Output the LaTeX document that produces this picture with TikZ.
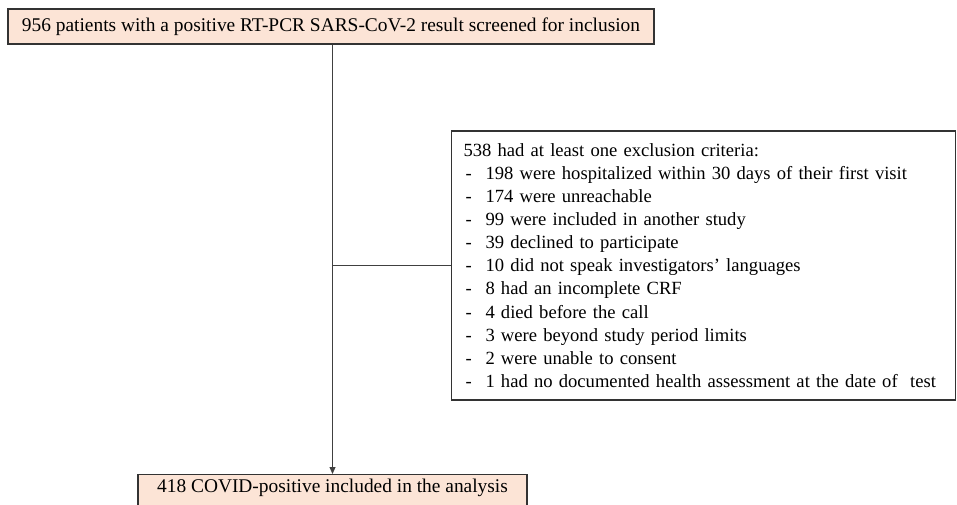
\documentclass[tikz,border=0pt]{standalone}
\usepackage{fontspec}
\setmainfont{Liberation Serif}
\usetikzlibrary{arrows.meta}
\definecolor{peche}{HTML}{FCE4D6}

\begin{document}
\begin{tikzpicture}[x=1pt, y=-1pt,
    boite/.style={draw=black!80, line width=1.3pt},
    lien/.style={draw=black!75, line width=0.8pt}]
    \useasboundingbox (0,0) rectangle (957,505);

    % Patients depistes
    \node[boite, fill=peche, minimum width=646pt, minimum height=35pt,
        font=\fontsize{19.4}{23}\selectfont] (depistage) at (331,26.5)
        {956 patients with a positive RT-PCR SARS-CoV-2 result screened for inclusion};

    % Patients inclus
    \node[boite, fill=peche, anchor=north, minimum width=389pt, inner ysep=3pt,
        text height=14.5pt, text depth=16pt, font=\fontsize{19.4}{23}\selectfont] (inclus) at (332.5,474)
        {418 COVID-positive included in the analysis};

    % Criteres d'exclusion
    \node[boite, align=left, text width=480pt, inner xsep=12pt, minimum height=269pt,
        font=\fontsize{18.6}{23.1}\selectfont] (exclusion) at (703.5,265.5)
        {538 had at least one exclusion criteria:\\
        \makebox[22pt][l]{\hspace{2pt}-}198 were hospitalized within 30 days of their first visit\\
        \makebox[22pt][l]{\hspace{2pt}-}174 were unreachable\\
        \makebox[22pt][l]{\hspace{2pt}-}99 were included in another study\\
        \makebox[22pt][l]{\hspace{2pt}-}39 declined to participate\\
        \makebox[22pt][l]{\hspace{2pt}-}10 did not speak investigators’ languages\\
        \makebox[22pt][l]{\hspace{2pt}-}8 had an incomplete CRF\\
        \makebox[22pt][l]{\hspace{2pt}-}4 died before the call\\
        \makebox[22pt][l]{\hspace{2pt}-}3 were beyond study period limits\\
        \makebox[22pt][l]{\hspace{2pt}-}2 were unable to consent\\
        \makebox[22pt][l]{\hspace{2pt}-}1 had no documented health assessment at the date of~ test};

    % Fleches
    \draw[lien, -{Triangle[length=7pt,width=6pt]}] (inclus.north |- depistage.south) -- (inclus.north);
    \coordinate (embranchement) at (inclus.north |- exclusion.west);
    \draw[lien] (embranchement) -- (exclusion.west);
\end{tikzpicture}
\end{document}
